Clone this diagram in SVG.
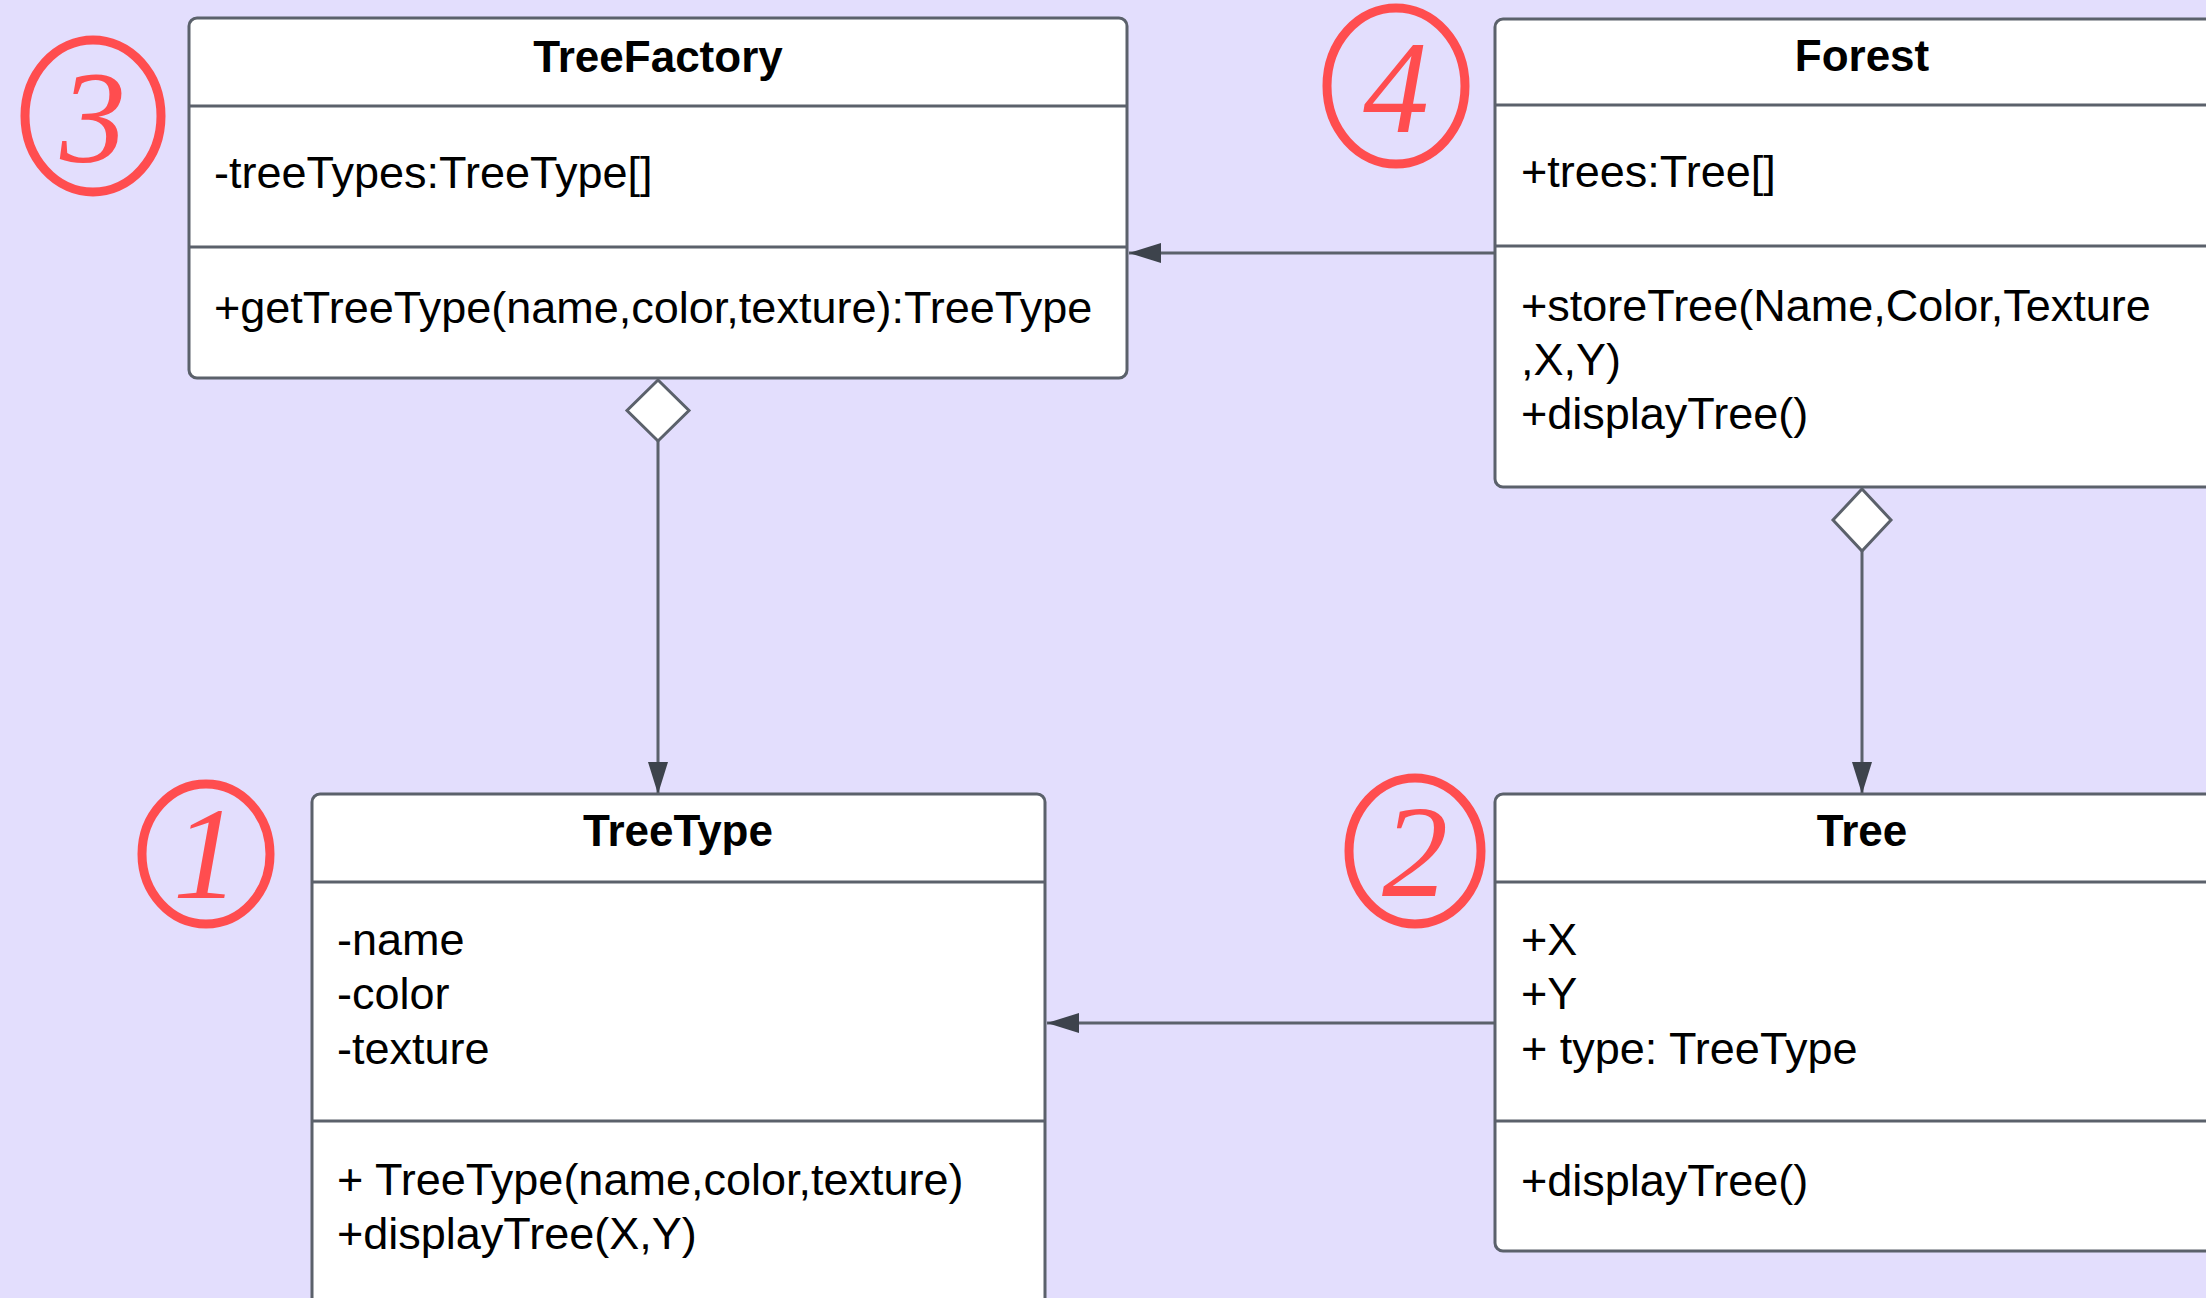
<svg xmlns="http://www.w3.org/2000/svg" width="2206" height="1298" viewBox="0 0 2206 1298">
<defs>
<style>
.box{fill:#ffffff;stroke:#5b616b;stroke-width:3}
.div{stroke:#5b616b;stroke-width:3}
.t{font-family:"Liberation Sans",Arial,sans-serif;font-size:45px;fill:#000}
.title{font-weight:bold;text-anchor:middle;font-size:44px}
.conn{stroke:#5b616b;stroke-width:3;fill:none}
.dia{fill:#ffffff;stroke:#5b616b;stroke-width:3}
.ring{fill:none;stroke:#ff4d4f;stroke-width:9}
.num{font-family:"Liberation Serif",serif;font-style:italic;font-size:132px;fill:#ff4d4f;text-anchor:middle}
</style>
<marker id="arr" viewBox="0 0 32 20" refX="32" refY="10" markerWidth="32" markerHeight="20" markerUnits="userSpaceOnUse" orient="auto">
<path d="M0,0 L32,10 L0,20 Z" fill="#3d434c"/>
</marker>
</defs>
<rect x="0" y="0" width="2206" height="1298" fill="#e3defd"/>

<g id="connectors">
<line class="conn" x1="1495" y1="253" x2="1129" y2="253" marker-end="url(#arr)"/>
<line class="conn" x1="658" y1="441" x2="658" y2="794" marker-end="url(#arr)"/>
<line class="conn" x1="1862" y1="551" x2="1862" y2="794" marker-end="url(#arr)"/>
<line class="conn" x1="1495" y1="1023" x2="1047" y2="1023" marker-end="url(#arr)"/>
<path class="dia" d="M658,380 L689,410.5 L658,441 L627,410.5 Z"/>
<path class="dia" d="M1862,489 L1891,520 L1862,551 L1833,520 Z"/>
</g>

<g id="TreeFactory">
<rect class="box" x="189" y="18" width="938" height="360" rx="8"/>
<line class="div" x1="189" y1="106" x2="1127" y2="106"/>
<line class="div" x1="189" y1="247" x2="1127" y2="247"/>
<text class="t title" x="658" y="72">TreeFactory</text>
<text class="t" x="214" y="188">-treeTypes:TreeType[]</text>
<text class="t" x="214" y="323">+getTreeType(name,color,texture):TreeType</text>
</g>

<g id="Forest">
<rect class="box" x="1495" y="19" width="734" height="468" rx="8"/>
<line class="div" x1="1495" y1="105" x2="2229" y2="105"/>
<line class="div" x1="1495" y1="246" x2="2229" y2="246"/>
<text class="t title" x="1862" y="71">Forest</text>
<text class="t" x="1521" y="187">+trees:Tree[]</text>
<text class="t" x="1521" y="321">+storeTree(Name,Color,Texture</text>
<text class="t" x="1521" y="375">,X,Y)</text>
<text class="t" x="1521" y="429">+displayTree()</text>
</g>

<g id="TreeType">
<rect class="box" x="312" y="794" width="733" height="560" rx="8"/>
<line class="div" x1="312" y1="882" x2="1045" y2="882"/>
<line class="div" x1="312" y1="1121" x2="1045" y2="1121"/>
<text class="t title" x="678" y="846">TreeType</text>
<text class="t" x="337" y="955">-name</text>
<text class="t" x="337" y="1009">-color</text>
<text class="t" x="337" y="1064">-texture</text>
<text class="t" x="337" y="1195">+ TreeType(name,color,texture)</text>
<text class="t" x="337" y="1249">+displayTree(X,Y)</text>
</g>

<g id="Tree">
<rect class="box" x="1495" y="794" width="734" height="457" rx="8"/>
<line class="div" x1="1495" y1="882" x2="2229" y2="882"/>
<line class="div" x1="1495" y1="1121" x2="2229" y2="1121"/>
<text class="t title" x="1862" y="846">Tree</text>
<text class="t" x="1521" y="955">+X</text>
<text class="t" x="1521" y="1009">+Y</text>
<text class="t" x="1521" y="1064">+ type: TreeType</text>
<text class="t" x="1521" y="1196">+displayTree()</text>
</g>

<g id="badge3">
<ellipse class="ring" cx="93" cy="116" rx="68" ry="76"/>
<text class="num" x="93" y="162">3</text>
</g>
<g id="badge4">
<ellipse class="ring" cx="1396" cy="86" rx="69" ry="78"/>
<text class="num" x="1396" y="132">4</text>
</g>
<g id="badge1">
<ellipse class="ring" cx="206" cy="854" rx="64" ry="70"/>
<text class="num" x="206" y="898">1</text>
</g>
<g id="badge2">
<ellipse class="ring" cx="1415" cy="851" rx="66" ry="73"/>
<text class="num" x="1415" y="896">2</text>
</g>
</svg>
